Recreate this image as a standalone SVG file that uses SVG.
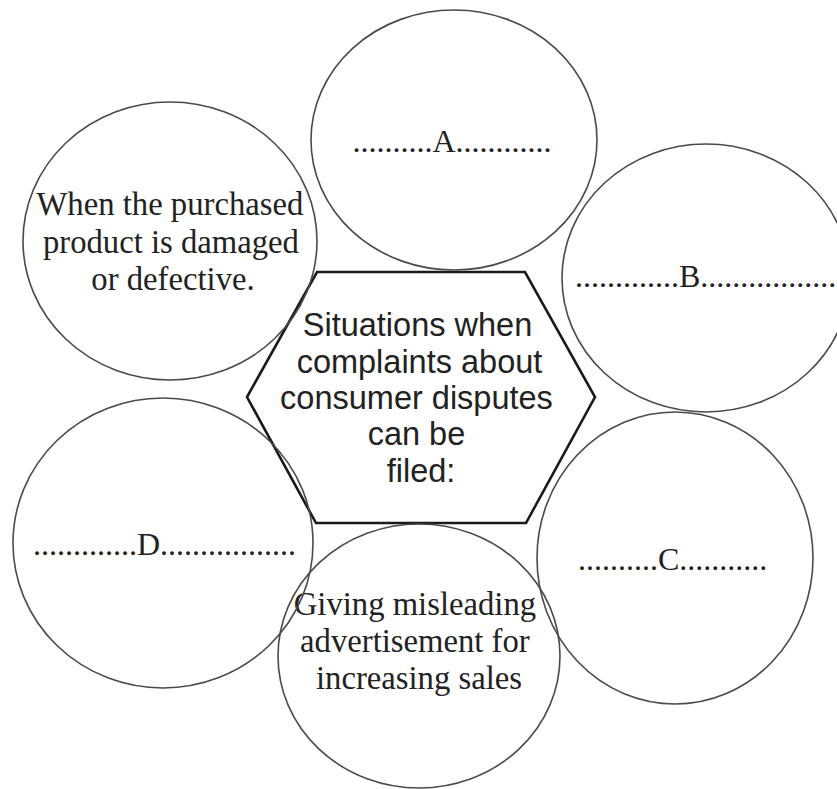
<svg xmlns="http://www.w3.org/2000/svg" width="837" height="789" viewBox="0 0 837 789">
  <style>
    .bubble { fill: none; stroke: #4a4a4a; stroke-width: 1.6; }
    .hub { fill: none; stroke: #1a1a1a; stroke-width: 2.6; stroke-linejoin: miter; }
    .serif { font-family: "Liberation Serif", "Times New Roman", serif; font-size: 32px; fill: #222; }
    .body { font-size: 32.7px; }
    .sans { font-family: "Liberation Sans", Arial, sans-serif; font-size: 32.5px; fill: #222; }
    .mid { text-anchor: middle; }
  </style>
  <rect width="837" height="789" fill="#ffffff"/>

  <!-- central hexagon -->
  <g id="hub">
    <polygon class="hub" points="317,272 525,272 595,397 526,523 316,523 247,397"/>
    <text class="sans mid">
      <tspan x="422" y="336">Situations when</tspan>
      <tspan x="424" y="373">complaints about</tspan>
      <tspan x="421" y="409">consumer disputes</tspan>
      <tspan x="421" y="445">can be</tspan>
      <tspan x="421" y="482">filed:</tspan>
    </text>
  </g>

  <!-- surrounding bubbles -->
  <g id="bubble-defective">
    <ellipse class="bubble" cx="170" cy="241" rx="147" ry="139"/>
    <text class="serif body mid">
      <tspan x="174" y="215">When the purchased</tspan>
      <tspan x="175" y="253">product is damaged</tspan>
      <tspan x="173" y="290">or defective.</tspan>
    </text>
  </g>

  <g id="bubble-a">
    <ellipse class="bubble" cx="454" cy="140" rx="143" ry="130"/>
    <text class="serif mid" x="452" y="152">..........A............</text>
  </g>

  <g id="bubble-b">
    <ellipse class="bubble" cx="706" cy="278" rx="144" ry="134"/>
    <text class="serif" x="575" y="287">.............B.................</text>
  </g>

  <g id="bubble-c">
    <ellipse class="bubble" cx="675" cy="558" rx="138" ry="146"/>
    <text class="serif" x="578" y="570">..........C...........</text>
  </g>

  <g id="bubble-advert">
    <ellipse class="bubble" cx="419" cy="656" rx="141" ry="132"/>
    <text class="serif body mid">
      <tspan x="419" y="615">Giving misleading</tspan>
      <tspan x="419" y="652">advertisement for</tspan>
      <tspan x="419" y="689">increasing sales</tspan>
    </text>
  </g>

  <g id="bubble-d">
    <ellipse class="bubble" cx="163" cy="543" rx="150" ry="145"/>
    <text class="serif" x="33" y="555">.............D.................</text>
  </g>

  <g id="connectors"></g>
</svg>
